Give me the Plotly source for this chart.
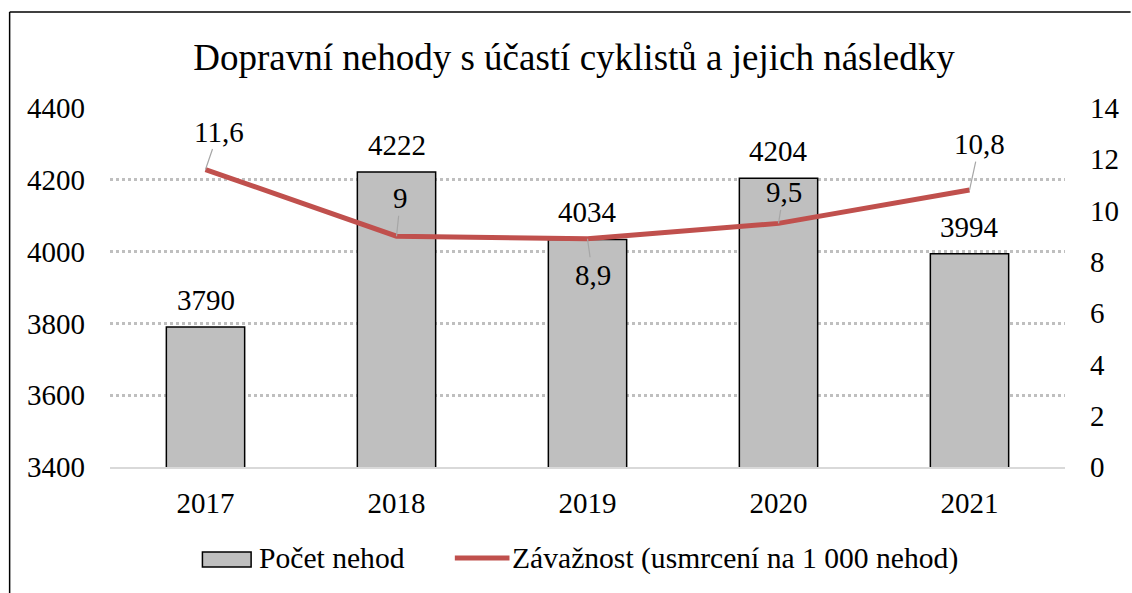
import plotly.graph_objects as go

years = ["2017", "2018", "2019", "2020", "2021"]
accidents = [3790, 4222, 4034, 4204, 3994]
severity = [11.6, 9.0, 8.9, 9.5, 10.8]
severity_labels = ["11,6", "9", "8,9", "9,5", "10,8"]
label_offsets = [(13, -38), (4, -38), (5, 36), (5, -31), (10, -46)]

title = "Dopravní nehody s účastí cyklistů a jejich následky"
bar_name = "Počet nehod"
line_name = "Závažnost (usmrcení na 1 000 nehod)"

FONT = "Liberation Serif"
FS = 29
BAR_COLOR = "#bfbfbf"
LINE_COLOR = "#c0504d"

W, H = 1132, 593
L, R, T, B = 110, 61, 108, 126
pw, ph = W - L - R, H - T - B


def px(xp):
    return (xp - L) / pw


def py(yp):
    return (H - B - yp) / ph


fig = go.Figure()
fig.add_trace(go.Bar(
    x=years, y=accidents, name=bar_name,
    marker=dict(color=BAR_COLOR, line=dict(color="black", width=1.5)),
    width=0.41, showlegend=False,
))
fig.add_trace(go.Scatter(
    x=years, y=severity, name=line_name, yaxis="y2",
    mode="lines", line=dict(color=LINE_COLOR, width=5), showlegend=False,
))

# bar value labels
for i, v in enumerate(accidents):
    fig.add_annotation(
        x=i, y=v, xref="x", yref="y", text=str(v), showarrow=False,
        yanchor="bottom", yshift=9, font=dict(size=FS, color="black", family=FONT),
    )

# line value labels with leader lines
for i, (yv, lab, (ax, ay)) in enumerate(zip(severity, severity_labels, label_offsets)):
    fig.add_annotation(
        x=i, y=yv, xref="x", yref="y2", text=lab,
        showarrow=True, arrowhead=0, arrowwidth=1.2, arrowcolor="#a6a6a6",
        ax=ax, ay=ay, font=dict(size=FS, color="black", family=FONT),
        standoff=0,
    )

# outer frame (partially cropped)
fig.add_shape(type="line", xref="paper", yref="paper", x0=px(9), x1=px(9),
              y0=py(H + 5), y1=py(12), line=dict(color="black", width=1.5))
fig.add_shape(type="line", xref="paper", yref="paper", x0=px(9), x1=px(W + 5),
              y0=py(12), y1=py(12), line=dict(color="black", width=1.5))

# custom legend
fig.add_shape(type="rect", xref="paper", yref="paper", x0=px(203), x1=px(252),
              y0=py(567), y1=py(552), fillcolor=BAR_COLOR,
              line=dict(color="black", width=1.5))
fig.add_annotation(xref="paper", yref="paper", x=px(258), y=py(558), text=bar_name,
                   showarrow=False, xanchor="left", yanchor="middle",
                   font=dict(size=29.6, color="black", family=FONT))
fig.add_shape(type="line", xref="paper", yref="paper", x0=px(457), x1=px(512),
              y0=py(558), y1=py(558), line=dict(color=LINE_COLOR, width=5))
fig.add_annotation(xref="paper", yref="paper", x=px(513), y=py(558), text=line_name,
                   showarrow=False, xanchor="left", yanchor="middle",
                   font=dict(size=29.6, color="black", family=FONT))

fig.update_layout(
    width=W, height=H,
    margin=dict(l=L, r=R, t=T, b=B),
    paper_bgcolor="white", plot_bgcolor="white",
    font=dict(family=FONT, size=FS, color="black"),
    title=dict(text=title, x=574 / W, xref="container", xanchor="center",
               y=1 - 57 / H, yref="container", yanchor="middle",
               font=dict(size=37, family=FONT, color="black")),
    xaxis=dict(type="category", range=[-0.5, 4.5], showline=True, linecolor="#d9d9d9",
               linewidth=2, ticks="", tickfont=dict(size=FS), ticklabelstandoff=9),
    yaxis=dict(range=[3400, 4400], dtick=200, showgrid=True, gridcolor="#bfbfbf",
               gridwidth=3, griddash="dot", zeroline=False, ticks="",
               tickfont=dict(size=FS), ticklabelstandoff=24),
    yaxis2=dict(range=[0, 14], dtick=2, overlaying="y", side="right", showgrid=False,
                zeroline=False, ticks="", tickfont=dict(size=FS), ticklabelstandoff=24),
    showlegend=False,
)

fig.write_html("out.html")
